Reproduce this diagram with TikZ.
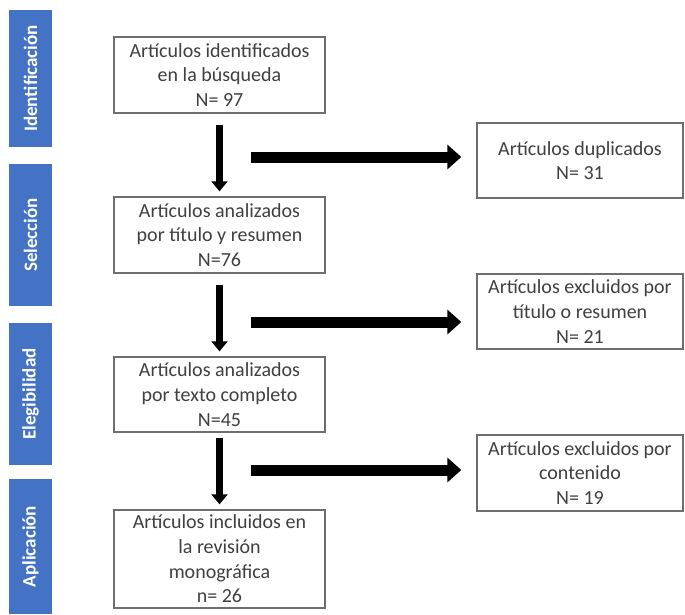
\documentclass[tikz,border=0pt]{standalone}
\usepackage{fontspec}
\setmainfont{Carlito}
\usepackage{xcolor}
\usepackage{tikz}
\usetikzlibrary{arrows.meta,positioning}
\definecolor{barblue}{HTML}{4472C4}
\definecolor{txtgray}{HTML}{404040}
\definecolor{edgegray}{HTML}{6E6E6E}
\begin{document}
\begin{tikzpicture}[x=1pt, y=-1pt,
  box/.style={draw=edgegray,line width=1.4pt,fill=white,align=center,inner sep=0pt,
    minimum width=211pt,text=txtgray,font=\fontsize{20}{24.7}\selectfont},
  sidebox/.style={box,minimum width=206pt},
  phase/.style={fill=barblue,minimum width=43pt,inner sep=0pt,text=white,rotate=90,
    font=\bfseries\fontsize{19}{22}\selectfont},
  downarrow/.style={line width=7pt,-{Triangle[length=10pt,width=16pt]},shorten <=11pt,shorten >=5pt},
  sidearrow/.style={line width=11pt,-{Triangle[length=14pt,width=24pt]},shorten >=15pt}]
\useasboundingbox (0,0) rectangle (685,614);
% fases
\node[phase,minimum height=43pt,minimum width=137pt] (ident) at (30.5,78.5) {Identificación};
\node[phase,minimum height=43pt,minimum width=142pt] (selec) at (30.5,235) {Selección};
\node[phase,minimum height=43pt,minimum width=142pt] (elegi) at (30.5,394) {Elegibilidad};
\node[phase,minimum height=43pt,minimum width=135pt] (aplic) at (30.5,546.5) {Aplicación};
% cajas principales
\node[box,minimum height=76pt] (busq) at (219.5,75) {Artículos identificados\\en la búsqueda\\N= 97};
\node[box,minimum height=76pt] (titulo) at (219.5,235) {Artículos analizados\\por título y resumen\\N=76};
\node[box,minimum height=75pt] (texto) at (219.5,394.5) {Artículos analizados\\por texto completo\\N=45};
\node[box,minimum height=98pt] (incl) at (219.5,559) {Artículos incluidos en\\la revisión\\monográfica\\n= 26};
% cajas de exclusion
\node[sidebox,minimum height=75pt] (dupl) at (580,160.5) {Artículos duplicados\\N= 31};
\node[sidebox,minimum height=75pt] (exres) at (580,311.5) {Artículos excluidos por\\título o resumen\\N= 21};
\node[sidebox,minimum height=76pt] (excont) at (580,473) {Artículos excluidos por\\contenido\\N= 19};
% flechas
\draw[downarrow] (busq)--(titulo);
\draw[downarrow] (titulo)--(texto);
\draw[downarrow,shorten <=5pt] (texto)--(incl);
\coordinate (s1) at (251,157);
\coordinate (s2) at (251,322);
\coordinate (s3) at (251,470);
\draw[sidearrow] (s1)--(s1-|dupl.west);
\draw[sidearrow] (s2)--(s2-|exres.west);
\draw[sidearrow] (s3)--(s3-|excont.west);
\end{tikzpicture}
\end{document}
